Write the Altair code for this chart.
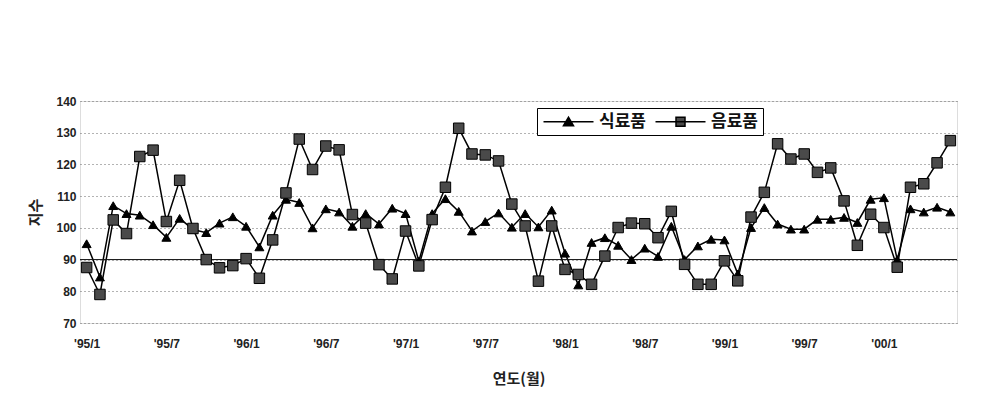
import altair as alt
import pandas as pd

months = [
    "'95/1", "'95/2", "'95/3", "'95/4", "'95/5", "'95/6", "'95/7", "'95/8", "'95/9", "'95/10", "'95/11", "'95/12",
    "'96/1", "'96/2", "'96/3", "'96/4", "'96/5", "'96/6", "'96/7", "'96/8", "'96/9", "'96/10", "'96/11", "'96/12",
    "'97/1", "'97/2", "'97/3", "'97/4", "'97/5", "'97/6", "'97/7", "'97/8", "'97/9", "'97/10", "'97/11", "'97/12",
    "'98/1", "'98/2", "'98/3", "'98/4", "'98/5", "'98/6", "'98/7", "'98/8", "'98/9", "'98/10", "'98/11", "'98/12",
    "'99/1", "'99/2", "'99/3", "'99/4", "'99/5", "'99/6", "'99/7", "'99/8", "'99/9", "'99/10", "'99/11", "'99/12",
    "'00/1", "'00/2", "'00/3", "'00/4", "'00/5", "'00/6",
]

tick_labels = ["'95/1", "'95/7", "'96/1", "'96/7", "'97/1", "'97/7",
               "'98/1", "'98/7", "'99/1", "'99/7", "'00/1"]

food = [
    95, 84.5, 107, 104.5, 104, 101, 97, 103, 99.5, 98.5, 101.5, 103.5,
    100.5, 94, 104, 109, 108, 100, 106, 105, 100.5, 104.5, 101.2, 106.2,
    104.5, 89.5, 104.5, 109.2, 105.2, 99, 102, 104.7, 100.2, 104.5, 100.3, 105.6,
    92, 82, 95.4, 96.9, 94.5, 90, 93.6, 91, 100.5, 90, 94.3, 96.4,
    96.2, 85.5, 100.1, 106.4, 101.2, 99.6, 99.6, 102.7, 102.7, 103.3, 101.7, 109,
    109.5, 90, 106, 105, 106.5, 105,
]

beverage = [
    87.5, 79, 102.5, 98.2, 122.5, 124.5, 102, 115, 99.8, 90, 87.4, 88.1,
    90.3, 84.1, 96.2, 111, 128, 118.4, 125.8, 124.6, 104.2, 101.5, 88.4, 83.9,
    99, 88, 102.6, 112.8, 131.4, 123.3, 123, 121.1, 107.5, 100.6, 83.2, 100.6,
    86.9, 85.3, 82.2, 91.1, 100.1, 101.5, 101.3, 96.9, 105.2, 88.5, 82.2, 82.2,
    89.6, 83.3, 103.4, 111.2, 126.5, 121.7, 123.3, 117.5, 118.9, 108.5, 94.5, 104.3,
    100.1, 87.6, 112.8, 113.9, 120.5, 127.5,
]

series_names = ["식료품", "음료품"]
y_ticks = [70, 80, 90, 100, 110, 120, 130, 140]
ref_line = [90]

df = pd.concat([
    pd.DataFrame({"month": months, "value": food, "series": series_names[0]}),
    pd.DataFrame({"month": months, "value": beverage, "series": series_names[1]}),
])

y_scale = alt.Scale(domain=[70, 140], nice=False, zero=False)

x_enc = alt.X(
    "month:O", sort=months,
    scale=alt.Scale(type="point", padding=0.5),
    axis=alt.Axis(values=tick_labels, labelAngle=0, ticks=False, domain=False,
                  labelFont="Liberation Sans", labelFontSize=12, labelFontWeight="bold",
                  labelColor="#222", labelPadding=15, labelFlush=False, labelOverlap=False,
                  title="연도(월)", titleFont="Noto Sans CJK KR", titleFontSize=15,
                  titleFontWeight="bold", titleColor="#222", titleY=55,
                  titleBaseline="middle"),
)
y_enc = alt.Y(
    "value:Q", scale=y_scale,
    axis=alt.Axis(values=y_ticks, ticks=False, domain=False, labelOverlap=False,
                  grid=True, gridColor="#666", gridDash=[1, 3], gridWidth=1,
                  labelFont="Liberation Sans", labelFontSize=12, labelFontWeight="bold",
                  labelColor="#222", labelPadding=4,
                  title="지수", titleFont="Noto Sans CJK KR", titleFontSize=15,
                  titleFontWeight="bold", titleColor="#222", titleX=-45, titleY=111,
                  titleAngle=270, titleBaseline="middle", titleAlign="center"),
)

lines = alt.Chart(df).mark_line(color="black", strokeWidth=1.5).encode(
    x=x_enc, y=y_enc, detail="series:N"
)

rule = alt.Chart(pd.DataFrame({"v": ref_line})).mark_rule(
    color="#111", strokeWidth=1
).encode(y=alt.Y("v:Q", scale=y_scale, axis=alt.Axis(
    values=y_ticks, ticks=False, domain=False, labelOverlap=False,
    grid=True, gridColor="#666", gridDash=[1, 3], gridWidth=1,
    labelFont="Liberation Sans", labelFontSize=12, labelFontWeight="bold",
    labelColor="#222", labelPadding=4,
    title="지수", titleFont="Noto Sans CJK KR", titleFontSize=15,
    titleFontWeight="bold", titleColor="#222", titleX=-45, titleY=111,
    titleAngle=270, titleBaseline="middle", titleAlign="center")))

points = alt.Chart(df).mark_point(filled=True, stroke="black", strokeWidth=1, opacity=1).encode(
    x=x_enc, y=y_enc,
    shape=alt.Shape("series:N", scale=alt.Scale(domain=series_names,
                                                range=["triangle-up", "square"]), legend=None),
    color=alt.Color("series:N", scale=alt.Scale(domain=series_names,
                                                range=["black", "#4a4a4a"]), legend=None),
    size=alt.Size("series:N", scale=alt.Scale(domain=series_names, range=[80, 110]), legend=None),
)

legend_spec = dict(
    title=None, orient="none", legendX=457, legendY=7, direction="horizontal",
    strokeColor="black", fillColor="white", padding=5,
    symbolSize=100, symbolOffset=18, labelOffset=22, columnPadding=6,
    symbolOpacity=1, symbolStrokeWidth=1.5,
    labelFont="Noto Sans CJK KR", labelFontSize=17, labelFontWeight="bold",
    labelColor="#111",
)

legend_layer = alt.Chart(df).mark_point(filled=True, strokeWidth=1.5, opacity=0).encode(
    x=x_enc, y=y_enc,
    shape=alt.Shape(
        "series:N",
        scale=alt.Scale(domain=series_names, range=[
            "M-5,0H5M-1,0.8L0,-0.9L1,0.8Z",
            "M-5,0H5M-0.9,-0.9H0.9V0.9H-0.9Z",
        ]),
        legend=alt.Legend(**legend_spec),
    ),
    fill=alt.Fill("series:N", scale=alt.Scale(domain=series_names, range=["black", "#4a4a4a"]),
                  legend=alt.Legend(**legend_spec)),
    stroke=alt.Stroke("series:N", scale=alt.Scale(domain=series_names, range=["black", "black"]),
                      legend=alt.Legend(**legend_spec)),
)

chart = alt.layer(lines, rule, points, legend_layer).resolve_scale(
    shape="independent", color="independent", size="independent",
    fill="independent", stroke="independent"
).properties(
    width=877, height=222,
    autosize=alt.AutoSizeParams(type="none"),
    padding={"left": 72, "top": 93, "right": 25, "bottom": 72},
).configure_view(
    stroke="#333", strokeDash=[3, 2], strokeWidth=1
).configure(background="white")

chart.save("out.html", embed_options={"renderer": "svg", "actions": False})
